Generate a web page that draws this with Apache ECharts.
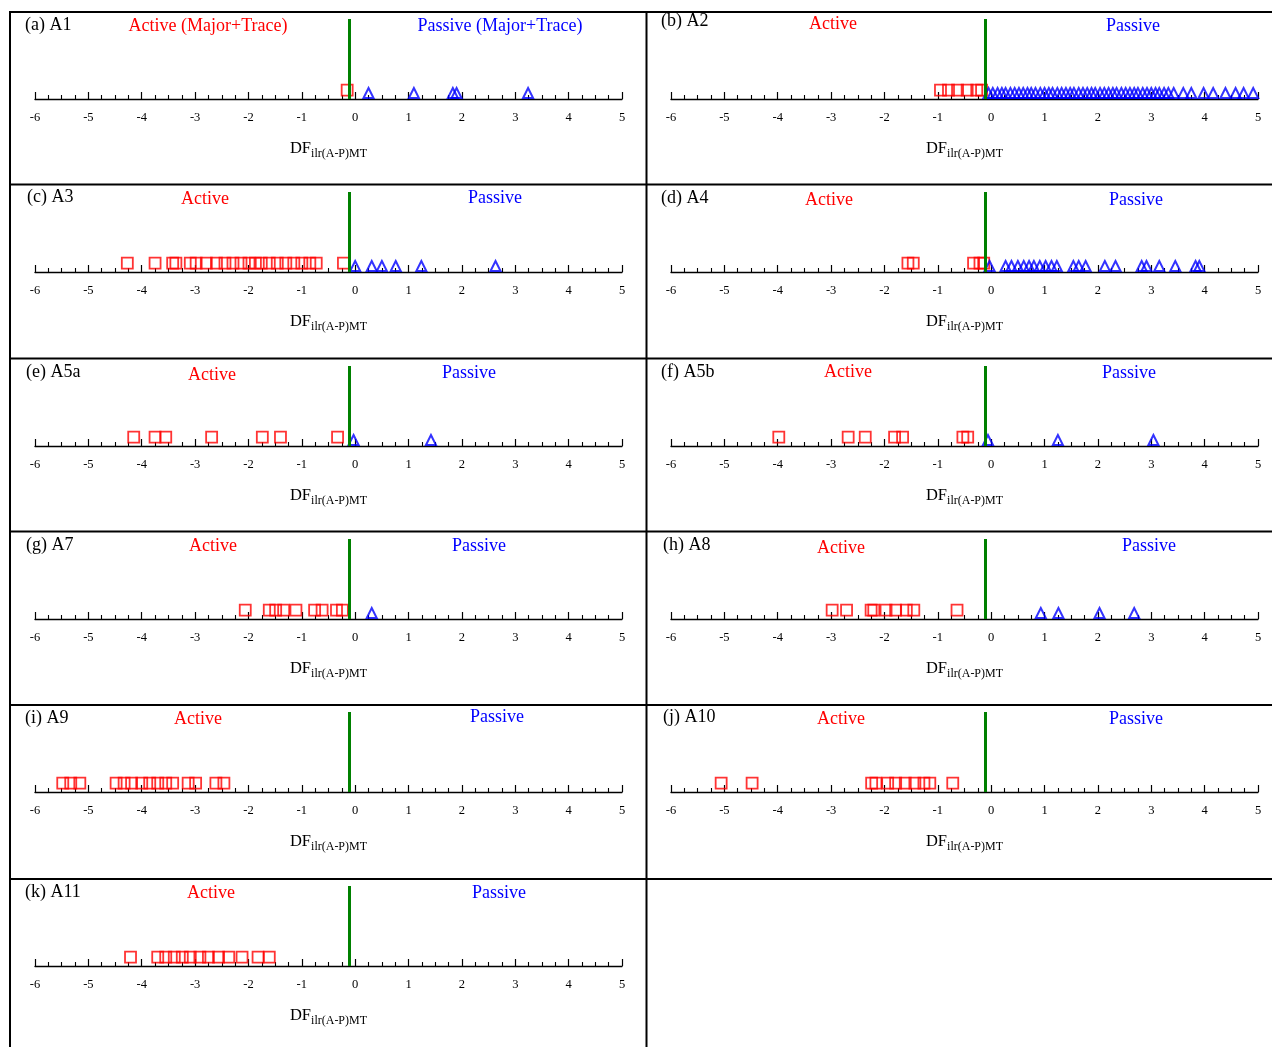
<!DOCTYPE html>
<html>
<head>
<meta charset="utf-8">
<script src="https://cdn.jsdelivr.net/npm/echarts@6/dist/echarts.min.js"></script>
<style>
html,body{margin:0;padding:0;background:#fff;}
#chart{width:1272px;height:1047px;}
</style>
</head>
<body>
<div id="chart"></div>
<script>
// ---- data (DF values) ----
const tickValues = [-6,-5,-4,-3,-2,-1,0,1,2,3,4,5];
const threshold = -0.12;

const a1Active  = [-0.15];
const a1Passive = [0.25, 1.10, 1.83, 1.90, 3.24];

const a2Active  = [-0.95, -0.80, -0.63, -0.45, -0.27, -0.18];
const a2Passive = [-0.05, 0.03, 0.12, 0.2, 0.27, 0.36, 0.44, 0.52, 0.6, 0.68, 0.75, 0.83, 0.92, 1.0, 1.08, 1.15, 1.24, 1.32, 1.4, 1.48, 1.55, 1.64, 1.72, 1.8, 1.88, 1.95, 2.04, 2.12, 2.2, 2.28, 2.35, 2.44, 2.52, 2.6, 2.68, 2.75, 2.84, 2.92, 3.0, 3.08, 3.15, 3.24, 3.32, 3.42, 3.6, 3.75, 3.98, 4.16, 4.39, 4.58, 4.73, 4.91];

const a3Active  = [-4.27, -3.75, -3.42, -3.36, -3.09, -2.98, -2.79, -2.60, -2.44, -2.29, -2.14, -1.99, -1.87, -1.76, -1.61, -1.46, -1.30, -1.15, -1.00, -0.85, -0.73, -0.22];
const a3Passive = [0.00, 0.31, 0.50, 0.76, 1.24, 2.63];

const a4Active  = [-1.56, -1.46, -0.33, -0.21, -0.14];
const a4Passive = [-0.03, 0.27, 0.38, 0.50, 0.61, 0.71, 0.80, 0.91, 1.02, 1.13, 1.23, 1.54, 1.64, 1.77, 2.13, 2.33, 2.82, 2.91, 3.15, 3.45, 3.83, 3.90];

const a5aActive  = [-4.15, -3.75, -3.55, -2.69, -1.74, -1.40, -0.33];
const a5aPassive = [-0.03, 1.42];

const a5bActive  = [-3.98, -2.68, -2.36, -1.81, -1.66, -0.53, -0.44];
const a5bPassive = [-0.06, 1.25, 3.04];

const a7Active  = [-2.06, -1.61, -1.49, -1.34, -1.11, -0.76, -0.62, -0.35, -0.24];
const a7Passive = [0.31];

const a8Active  = [-2.98, -2.71, -2.25, -2.20, -1.97, -1.79, -1.59, -1.45, -0.64];
const a8Passive = [0.93, 1.26, 2.03, 2.68];

const a9Active  = [-5.48, -5.33, -5.16, -4.48, -4.33, -4.19, -4.00, -3.85, -3.70, -3.55, -3.42, -3.13, -2.99, -2.61, -2.46];
const a9Passive = [];

const a10Active  = [-5.06, -4.48, -2.24, -2.16, -1.94, -1.79, -1.61, -1.43, -1.26, -1.15, -0.72];
const a10Passive = [];

const a11Active  = [-4.21, -3.70, -3.55, -3.39, -3.24, -3.09, -2.91, -2.75, -2.56, -2.37, -2.12, -1.82, -1.61];
const a11Passive = [];

// ---- layout ----
const SERIF = '"Liberation Serif","Times New Roman",serif';
const COL_X = [35, 671];
const ROW_Y = [12, 185, 359, 532, 705, 879];

const panels = [
  {tag:'(a) A1',  col:0,row:0, act:a1Active,  pas:a1Passive,  actTxt:'Active (Major+Trace)', pasTxt:'Passive (Major+Trace)', tl:[25,25], al:[208,26], pl:[500,26]},
  {tag:'(b) A2',  col:1,row:0, act:a2Active,  pas:a2Passive,  actTxt:'Active', pasTxt:'Passive', tl:[661,21], al:[833,24], pl:[1133,26]},
  {tag:'(c) A3',  col:0,row:1, act:a3Active,  pas:a3Passive,  actTxt:'Active', pasTxt:'Passive', tl:[27,197], al:[205,199], pl:[495,198]},
  {tag:'(d) A4',  col:1,row:1, act:a4Active,  pas:a4Passive,  actTxt:'Active', pasTxt:'Passive', tl:[661,198], al:[829,200], pl:[1136,200]},
  {tag:'(e) A5a', col:0,row:2, act:a5aActive, pas:a5aPassive, actTxt:'Active', pasTxt:'Passive', tl:[26,372], al:[212,375], pl:[469,373]},
  {tag:'(f) A5b', col:1,row:2, act:a5bActive, pas:a5bPassive, actTxt:'Active', pasTxt:'Passive', tl:[661,372], al:[848,372], pl:[1129,373]},
  {tag:'(g) A7',  col:0,row:3, act:a7Active,  pas:a7Passive,  actTxt:'Active', pasTxt:'Passive', tl:[26,545], al:[213,546], pl:[479,546]},
  {tag:'(h) A8',  col:1,row:3, act:a8Active,  pas:a8Passive,  actTxt:'Active', pasTxt:'Passive', tl:[663,545], al:[841,548], pl:[1149,546]},
  {tag:'(i) A9',  col:0,row:4, act:a9Active,  pas:a9Passive,  actTxt:'Active', pasTxt:'Passive', tl:[25,718], al:[198,719], pl:[497,717]},
  {tag:'(j) A10', col:1,row:4, act:a10Active, pas:a10Passive, actTxt:'Active', pasTxt:'Passive', tl:[663,717], al:[841,719], pl:[1136,719]},
  {tag:'(k) A11', col:0,row:5, act:a11Active, pas:a11Passive, actTxt:'Active', pasTxt:'Passive', tl:[25,892], al:[211,893], pl:[499,893]}
];

const grids = [], xAxes = [], yAxes = [], series = [], graphics = [];

panels.forEach((p, i) => {
  const y0 = ROW_Y[p.row];
  grids.push({left: COL_X[p.col], top: y0 + 7, width: 587, height: 80, containLabel: false});
  xAxes.push({
    gridIndex: i, type: 'value', min: tickValues[0], max: tickValues[tickValues.length-1], interval: 1,
    axisLine: {show: true, onZero: false, lineStyle: {color: '#000', width: 1.4}},
    axisTick: {show: true, inside: true, length: 7, lineStyle: {color: '#000', width: 1.2}},
    minorTick: {show: true, splitNumber: 4, length: 4, lineStyle: {color: '#000', width: 1.1}},
    splitLine: {show: false}, minorSplitLine: {show: false},
    axisLabel: {color: '#000', fontFamily: SERIF, fontSize: 12.5, margin: 12},
    name: '{a|DF}{b|ilr(A-P)MT}', nameLocation: 'middle', nameGap: 38,
    nameTextStyle: {
      color: '#000', fontFamily: SERIF,
      rich: {
        a: {fontFamily: SERIF, fontSize: 16.5, color: '#000', lineHeight: 20, verticalAlign: 'bottom'},
        b: {fontFamily: SERIF, fontSize: 12, color: '#000', lineHeight: 20, verticalAlign: 'bottom', padding: [0,0,-3,0]}
      }
    }
  });
  yAxes.push({gridIndex: i, type: 'value', min: 0, max: 1, show: false});

  series.push({
    type: 'scatter', xAxisIndex: i, yAxisIndex: i, symbol: 'rect', symbolSize: 11,
    data: p.act.map(v => [v, 0.11]),
    itemStyle: {color: 'rgba(0,0,0,0)', borderColor: '#ff0000', borderWidth: 1.8},
    silent: true, z: 3,
    markLine: {
      silent: true, symbol: ['none','none'], label: {show: false},
      lineStyle: {color: '#008000', width: 3, type: 'solid'},
      data: [{xAxis: threshold}], animation: false
    }
  });
  series.push({
    type: 'scatter', xAxisIndex: i, yAxisIndex: i, symbol: 'triangle', symbolSize: [10, 10],
    data: p.pas.map(v => [v, 0.075]),
    itemStyle: {color: 'rgba(0,0,0,0)', borderColor: '#0000ff', borderWidth: 2},
    silent: true, z: 3
  });

  const txt = (t, x, y, color, align) => ({
    type: 'text', silent: true,
    style: {text: t, x: x, y: y, fill: color, font: '18px ' + SERIF, textAlign: align, textVerticalAlign: 'middle'}
  });
  graphics.push(txt(p.tag, p.tl[0], p.tl[1], '#000', 'left'));
  graphics.push(txt(p.actTxt, p.al[0], p.al[1], '#ff0000', 'center'));
  graphics.push(txt(p.pasTxt, p.pl[0], p.pl[1], '#0000ff', 'center'));
});

// panel borders
const line = (x1, y1, x2, y2) => ({type: 'line', silent: true, shape: {x1, y1, x2, y2}, style: {stroke: '#000', lineWidth: 2}});
[12, 184.5, 358.5, 531.5, 705, 879].forEach(y => graphics.push(line(10, y, 1272, y)));
graphics.push(line(10, 11, 10, 1047));
graphics.push(line(646.5, 11, 646.5, 1047));

const chart = echarts.init(document.getElementById('chart'), null, {renderer: 'canvas'});
chart.setOption({
  animation: false,
  backgroundColor: '#fff',
  grid: grids, xAxis: xAxes, yAxis: yAxes, series: series,
  graphic: graphics
});
</script>
</body>
</html>
